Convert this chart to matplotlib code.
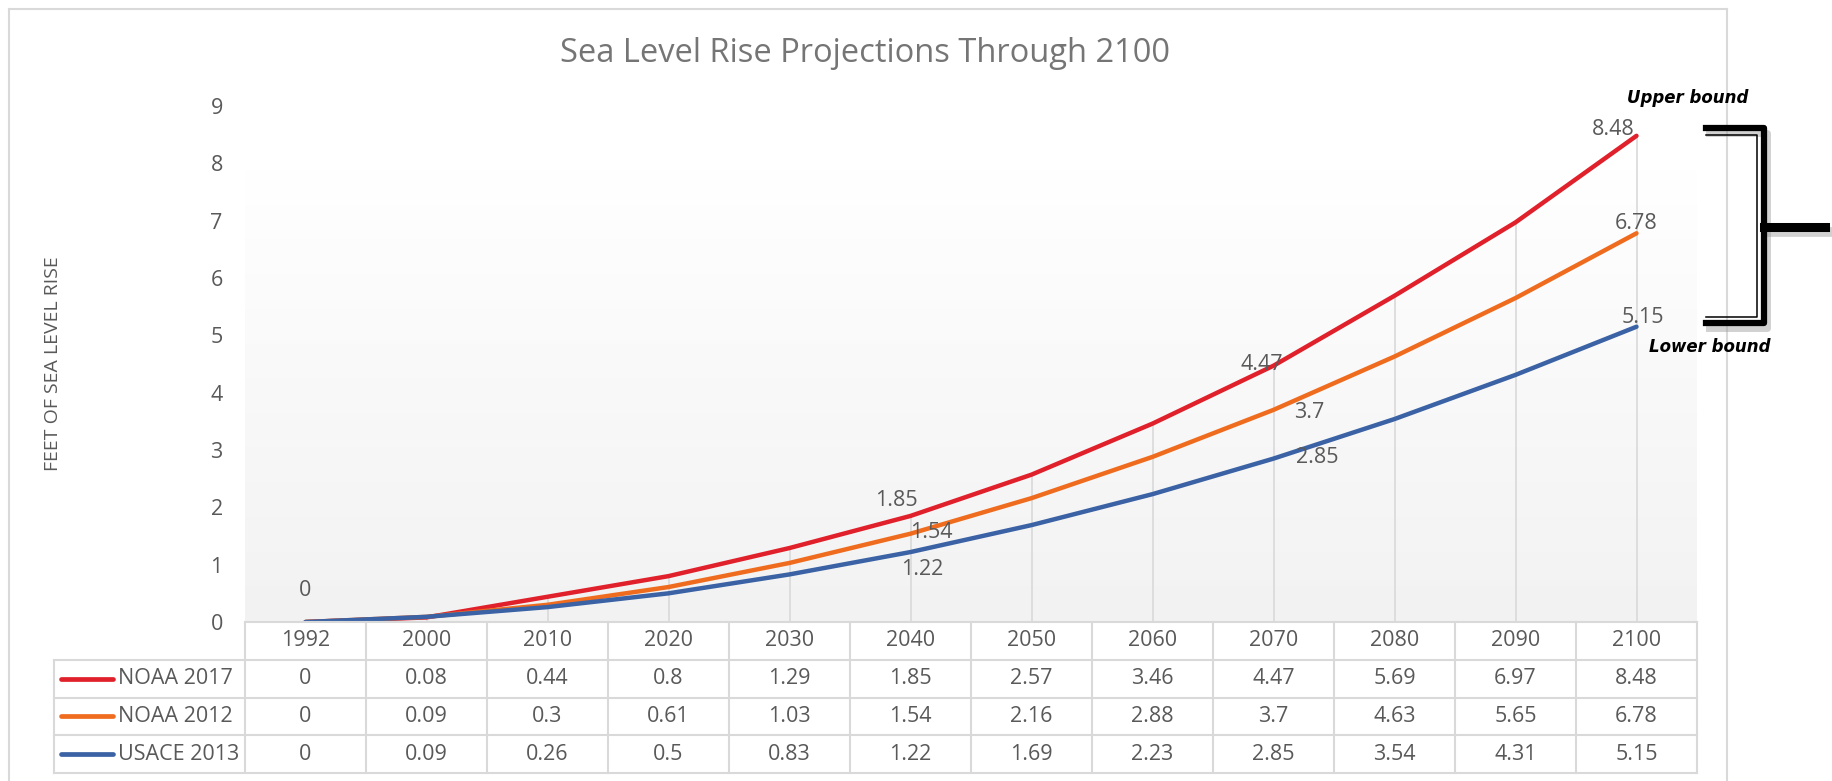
import numpy as np
import matplotlib
matplotlib.use("Agg")
import matplotlib.pyplot as plt
from matplotlib.lines import Line2D

# ---- data ----
years = ["1992", "2000", "2010", "2020", "2030", "2040", "2050", "2060", "2070", "2080", "2090", "2100"]
noaa_2017 = [0, 0.08, 0.44, 0.8, 1.29, 1.85, 2.57, 3.46, 4.47, 5.69, 6.97, 8.48]
noaa_2012 = [0, 0.09, 0.3, 0.61, 1.03, 1.54, 2.16, 2.88, 3.7, 4.63, 5.65, 6.78]
usace_2013 = [0, 0.09, 0.26, 0.5, 0.83, 1.22, 1.69, 2.23, 2.85, 3.54, 4.31, 5.15]
series_names = ["NOAA 2017", "NOAA 2012", "USACE 2013"]
y_ticks = [0, 1, 2, 3, 4, 5, 6, 7, 8, 9]

# data labels that are shown on the chart: (series index, category index)
shown_labels = [(0, 0), (0, 5), (1, 5), (2, 5), (0, 8), (1, 8), (2, 8), (0, 11), (1, 11), (2, 11)]

# ---- style ----
colors = ["#e0202a", "#ef6c1f", "#3a62a4"]
label_offsets = {(0, 0): (0, 32), (0, 5): (-14, 15), (1, 5): (21, 1), (2, 5): (12, -17),
                 (0, 8): (-12, 1), (1, 8): (36, -3), (2, 8): (44, 1),
                 (0, 11): (-23, 6), (1, 11): (0, 10), (2, 11): (6, 9)}
txt_col = "#595959"
grid_col = "#d9d9d9"
font = "Open Sans"
fs = 15.5

W, H = 1833, 781
fig = plt.figure(figsize=(W / 100, H / 100), dpi=100)
plt.rcParams["font.family"] = [font, "DejaVu Sans"]


def fx(px):
    return px / W


def fy(py):
    return 1 - py / H


series = [noaa_2017, noaa_2012, usace_2013]
x = np.arange(len(years))

# ---- main plot ----
ax = fig.add_axes([fx(245), fy(622), fx(1697 - 245), (622 - 106) / H])

# plot-area gradient (light gray at bottom fading to white)
g = np.linspace(242, 255, 256) / 255.0
grad = np.stack([g, g, g], axis=-1).reshape(256, 1, 3)
ax.imshow(grad, extent=(-0.5, len(years) - 0.5, 0, 7.9), origin="lower",
          aspect="auto", zorder=0)
ax.set_xlim(-0.5, len(years) - 0.5)
ax.set_ylim(0, 9)

# drop lines from the highest series down to the axis
tops = np.max(np.array(series), axis=0)
ax.vlines(x, 0, tops, color=grid_col, lw=1.2, zorder=1)

for s, c in zip(series, colors):
    ax.plot(x, s, color=c, lw=3.2, solid_capstyle="round", zorder=3)

for (si, ci) in shown_labels:
    v = series[si][ci]
    ax.annotate(f"{v:g}", (x[ci], v), xytext=label_offsets[(si, ci)],
                textcoords="offset pixels", ha="center", va="center",
                fontsize=fs, color=txt_col, zorder=4, annotation_clip=False)

for sp in ax.spines.values():
    sp.set_visible(False)
ax.set_xticks([])
ax.set_yticks(y_ticks)
ax.set_yticklabels([str(t) for t in y_ticks])
ax.tick_params(axis="y", length=0, pad=16, labelsize=fs, labelcolor=txt_col)

fig.text(fx(865), fy(53), "Sea Level Rise Projections Through 2100", ha="center",
         va="center", fontsize=23.5, color="#757575")
fig.text(fx(53), fy(364), "FEET OF SEA LEVEL RISE", rotation=90, ha="center",
         va="center", fontsize=14, color=txt_col)

# ---- data table under the axis ----
col_w = 121.0
x_left = -0.5 - (245 - 54) / col_w
tax = fig.add_axes([fx(54), fy(773), fx(1697 - 54), (773 - 622) / H])
tax.set_xlim(x_left, len(years) - 0.5)
tax.set_ylim(4, 0)
tax.axis("off")

lk = dict(color=grid_col, lw=1.5, clip_on=False)
tax.plot([-0.5, len(years) - 0.5], [0, 0], **lk)
for r in range(1, 5):
    tax.plot([x_left, len(years) - 0.5], [r, r], **lk)
for i in range(len(years) + 1):
    tax.plot([i - 0.5, i - 0.5], [0, 4], **lk)
tax.plot([x_left, x_left], [1, 4], **lk)

for i, yr in enumerate(years):
    tax.text(i, 0.5, yr, ha="center", va="center", fontsize=fs, color=txt_col)
for r, (name, s, c) in enumerate(zip(series_names, series, colors), start=1):
    tax.plot([x_left + 7 / col_w, x_left + 59 / col_w], [r + 0.5, r + 0.5],
             color=c, lw=3.4, solid_capstyle="round")
    tax.text(x_left + 64 / col_w, r + 0.5, name, ha="left", va="center",
             fontsize=fs, color=txt_col)
    for i, v in enumerate(s):
        tax.text(i, r + 0.5, f"{v:g}", ha="center", va="center", fontsize=fs, color=txt_col)

# ---- chart border ----
for xs, ys in [([9, 9], [9, H]), ([9, 1727], [9, 9]), ([1727, 1727], [9, H])]:
    fig.add_artist(Line2D([fx(v) for v in xs], [fy(v) for v in ys], color=grid_col, lw=1.5))


# ---- bracket annotation ----
def bracket(dx, dy, col, lw_o, lw_m, alpha=1.0):
    fig.add_artist(Line2D([fx(1706 + dx), fx(1764 + dx), fx(1764 + dx), fx(1706 + dx)],
                          [fy(128 + dy), fy(128 + dy), fy(323 + dy), fy(323 + dy)],
                          color=col, lw=lw_o, solid_joinstyle="round", alpha=alpha))
    fig.add_artist(Line2D([fx(1764 + dx), fx(1825 + dx)], [fy(227 + dy), fy(227 + dy)],
                          color=col, lw=lw_m, alpha=alpha))


bracket(3, 5, "#9a9a9a", 5, 7, alpha=0.45)
bracket(0, 0, "black", 4.5, 6.5)
fig.add_artist(Line2D([fx(1706), fx(1757), fx(1757), fx(1706)],
                      [fy(135), fy(135), fy(317), fy(317)], color="black", lw=1.1))

fig.text(fx(1688), fy(98), "Upper bound", ha="center", va="center", fontsize=12,
         fontweight="bold", fontstyle="italic", family="DejaVu Sans", color="black")
fig.text(fx(1710), fy(347), "Lower bound", ha="center", va="center", fontsize=12,
         fontweight="bold", fontstyle="italic", family="DejaVu Sans", color="black")

fig.savefig("out.png", dpi=100, facecolor="white")
